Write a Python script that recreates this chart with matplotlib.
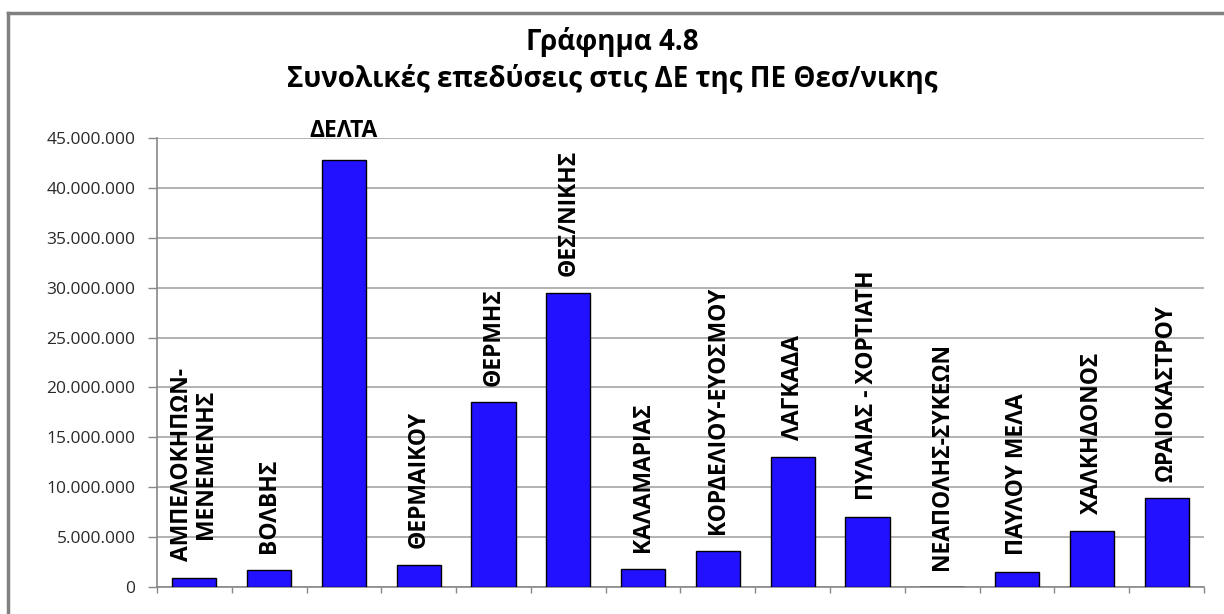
import numpy as np
import matplotlib
matplotlib.use('Agg')
import matplotlib.pyplot as plt
from matplotlib.ticker import FuncFormatter, MultipleLocator
from matplotlib.lines import Line2D

plt.rcParams['font.family'] = ['Open Sans', 'DejaVu Sans']

# δήμοι και συνολικές επενδύσεις
dimoi = ['ΑΜΠΕΛΟΚΗΠΩΝ-\nΜΕΝΕΜΕΝΗΣ', 'ΒΟΛΒΗΣ', 'ΔΕΛΤΑ', 'ΘΕΡΜΑΙΚΟΥ', 'ΘΕΡΜΗΣ',
         'ΘΕΣ/ΝΙΚΗΣ', 'ΚΑΛΑΜΑΡΙΑΣ', 'ΚΟΡΔΕΛΙΟΥ-ΕΥΟΣΜΟΥ', 'ΛΑΓΚΑΔΑ',
         'ΠΥΛΑΙΑΣ - ΧΟΡΤΙΑΤΗ', 'ΝΕΑΠΟΛΗΣ-ΣΥΚΕΩΝ', 'ΠΑΥΛΟΥ ΜΕΛΑ',
         'ΧΑΛΚΗΔΟΝΟΣ', 'ΩΡΑΙΟΚΑΣΤΡΟΥ']
ependyseis = [930000, 1700000, 42800000, 2200000, 18500000, 29500000,
              1800000, 3600000, 13050000, 7050000, 0, 1530000, 5640000,
              8890000]

titlos1 = 'Γράφημα 4.8'
titlos2 = 'Συνολικές επεδύσεις στις ΔΕ της ΠΕ Θεσ/νικης'


def fmt(v, pos):
    return '{:,.0f}'.format(v).replace(',', '.')


fig = plt.figure(figsize=(12.24, 6.14), dpi=100)
ax = fig.add_axes([157 / 1224, 27 / 614, 1047 / 1224, 449 / 614])

x = np.arange(len(dimoi))
ax.bar(x, ependyseis, width=0.59, color='#2211FF', edgecolor='black',
       linewidth=1, zorder=3)

for i, (name, v) in enumerate(zip(dimoi, ependyseis)):
    if name == 'ΔΕΛΤΑ':
        ax.annotate(name, (i, v), xytext=(0, 12), textcoords='offset points',
                    ha='center', va='bottom', fontsize=16.5,
                    fontweight='bold')
    else:
        ax.annotate(name, (i, v), xytext=(0, 12), textcoords='offset points',
                    ha='center', va='bottom', rotation=90, fontsize=16.5,
                    fontweight='bold', multialignment='center',
                    linespacing=1.0)

ax.set_xlim(-0.5, len(dimoi) - 0.5)
ax.set_ylim(0, 45000000)
ax.yaxis.set_major_locator(MultipleLocator(5000000))
ax.yaxis.set_major_formatter(FuncFormatter(fmt))
ax.set_xticks(np.arange(len(dimoi) + 1) - 0.5)
ax.set_xticklabels([])
ax.tick_params(axis='x', length=4.5, color='#888888', width=1)
ax.tick_params(axis='y', length=6.5, color='#888888', width=1,
               labelsize=12.5, labelcolor='#2a2a2a', pad=9)
ax.grid(axis='y', color='#a6a6a6', linewidth=1.2, zorder=0)
for s in ['top', 'right']:
    ax.spines[s].set_visible(False)
for s in ['left', 'bottom']:
    ax.spines[s].set_color('#888888')
    ax.spines[s].set_linewidth(1.2)

fig.text(0.5, 1 - 50 / 614, titlos1, ha='center', va='baseline',
         fontsize=20, fontweight='bold')
fig.text(0.5, 1 - 87 / 614, titlos2, ha='center', va='baseline',
         fontsize=20, fontweight='bold')

# πλαίσιο γραφήματος
fig.add_artist(Line2D([8 / 1224, 8 / 1224], [0, 1 - 13 / 614],
                      transform=fig.transFigure, color='#808080', lw=2.5))
fig.add_artist(Line2D([8 / 1224, 1], [1 - 13 / 614, 1 - 13 / 614],
                      transform=fig.transFigure, color='#808080', lw=2.5))

fig.savefig('out.png', dpi=100)
